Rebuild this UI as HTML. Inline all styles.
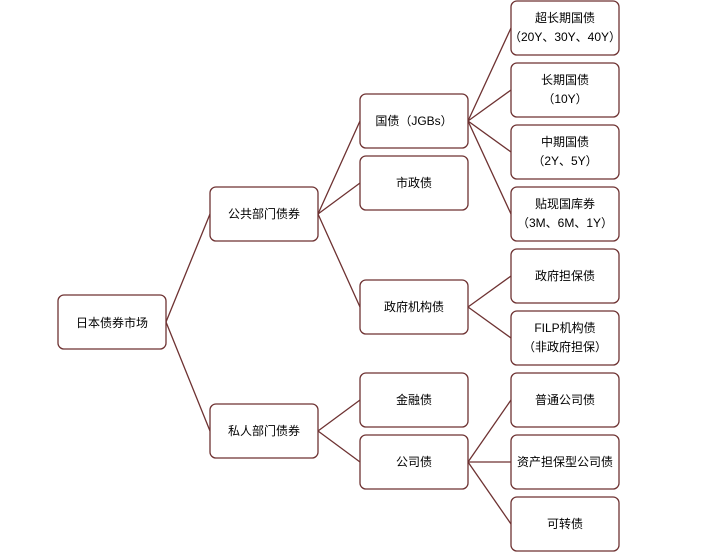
<!DOCTYPE html>
<html><head><meta charset="utf-8"><style>
html,body{margin:0;padding:0;background:#fff;width:723px;height:553px;overflow:hidden}
text{font-family:"Liberation Sans","Noto Sans CJK SC",sans-serif;font-size:12px;fill:#000;text-anchor:middle}
rect{fill:#fff;stroke:#6e3232;stroke-width:1.3}
line{stroke:#6e3232;stroke-width:1.3}
</style></head><body>
<svg width="723" height="553" xmlns="http://www.w3.org/2000/svg">
<!-- lines -->
<g>
<line x1="166" y1="322" x2="210" y2="214"/>
<line x1="166" y1="322" x2="210" y2="431"/>
<line x1="318" y1="214" x2="360" y2="121"/>
<line x1="318" y1="214" x2="360" y2="183"/>
<line x1="318" y1="214" x2="360" y2="307"/>
<line x1="318" y1="431" x2="360" y2="400"/>
<line x1="318" y1="431" x2="360" y2="462"/>
<line x1="468" y1="121" x2="511" y2="28"/>
<line x1="468" y1="121" x2="511" y2="90"/>
<line x1="468" y1="121" x2="511" y2="152"/>
<line x1="468" y1="121" x2="511" y2="214"/>
<line x1="468" y1="307" x2="511" y2="276"/>
<line x1="468" y1="307" x2="511" y2="338"/>
<line x1="468" y1="462" x2="511" y2="400"/>
<line x1="468" y1="462" x2="511" y2="462"/>
<line x1="468" y1="462" x2="511" y2="524"/>
</g>
<!-- boxes -->
<rect x="58" y="295" width="108" height="54" rx="6"/><text x="112" y="327">日本债券市场</text>
<rect x="210" y="187" width="108" height="54" rx="6"/><text x="264" y="218">公共部门债券</text>
<rect x="210" y="404" width="108" height="54" rx="6"/><text x="264" y="435">私人部门债券</text>
<rect x="360" y="94" width="108" height="54" rx="6"/><text x="414" y="125">国债（JGBs）</text>
<rect x="360" y="156" width="108" height="54" rx="6"/><text x="414" y="187">市政债</text>
<rect x="360" y="280" width="108" height="54" rx="6"/><text x="414" y="311">政府机构债</text>
<rect x="360" y="373" width="108" height="54" rx="6"/><text x="414" y="404">金融债</text>
<rect x="360" y="435" width="108" height="54" rx="6"/><text x="414" y="466">公司债</text>

<rect x="511" y="1" width="108" height="54" rx="6"/><text x="565" y="22">超长期国债</text><text x="565" y="41">（20Y、30Y、40Y）</text>
<rect x="511" y="63" width="108" height="54" rx="6"/><text x="565" y="84">长期国债</text><text x="565" y="103">（10Y）</text>
<rect x="511" y="125" width="108" height="54" rx="6"/><text x="565" y="146">中期国债</text><text x="565" y="165">（2Y、5Y）</text>
<rect x="511" y="187" width="108" height="54" rx="6"/><text x="565" y="208">贴现国库券</text><text x="565" y="227">（3M、6M、1Y）</text>
<rect x="511" y="249" width="108" height="54" rx="6"/><text x="565" y="280">政府担保债</text>
<rect x="511" y="311" width="108" height="54" rx="6"/><text x="565" y="332">FILP机构债</text><text x="565" y="351">（非政府担保）</text>
<rect x="511" y="373" width="108" height="54" rx="6"/><text x="565" y="404">普通公司债</text>
<rect x="511" y="435" width="108" height="54" rx="6"/><text x="565" y="466">资产担保型公司债</text>
<rect x="511" y="497" width="108" height="54" rx="6"/><text x="565" y="528">可转债</text>
</svg>
</body></html>
